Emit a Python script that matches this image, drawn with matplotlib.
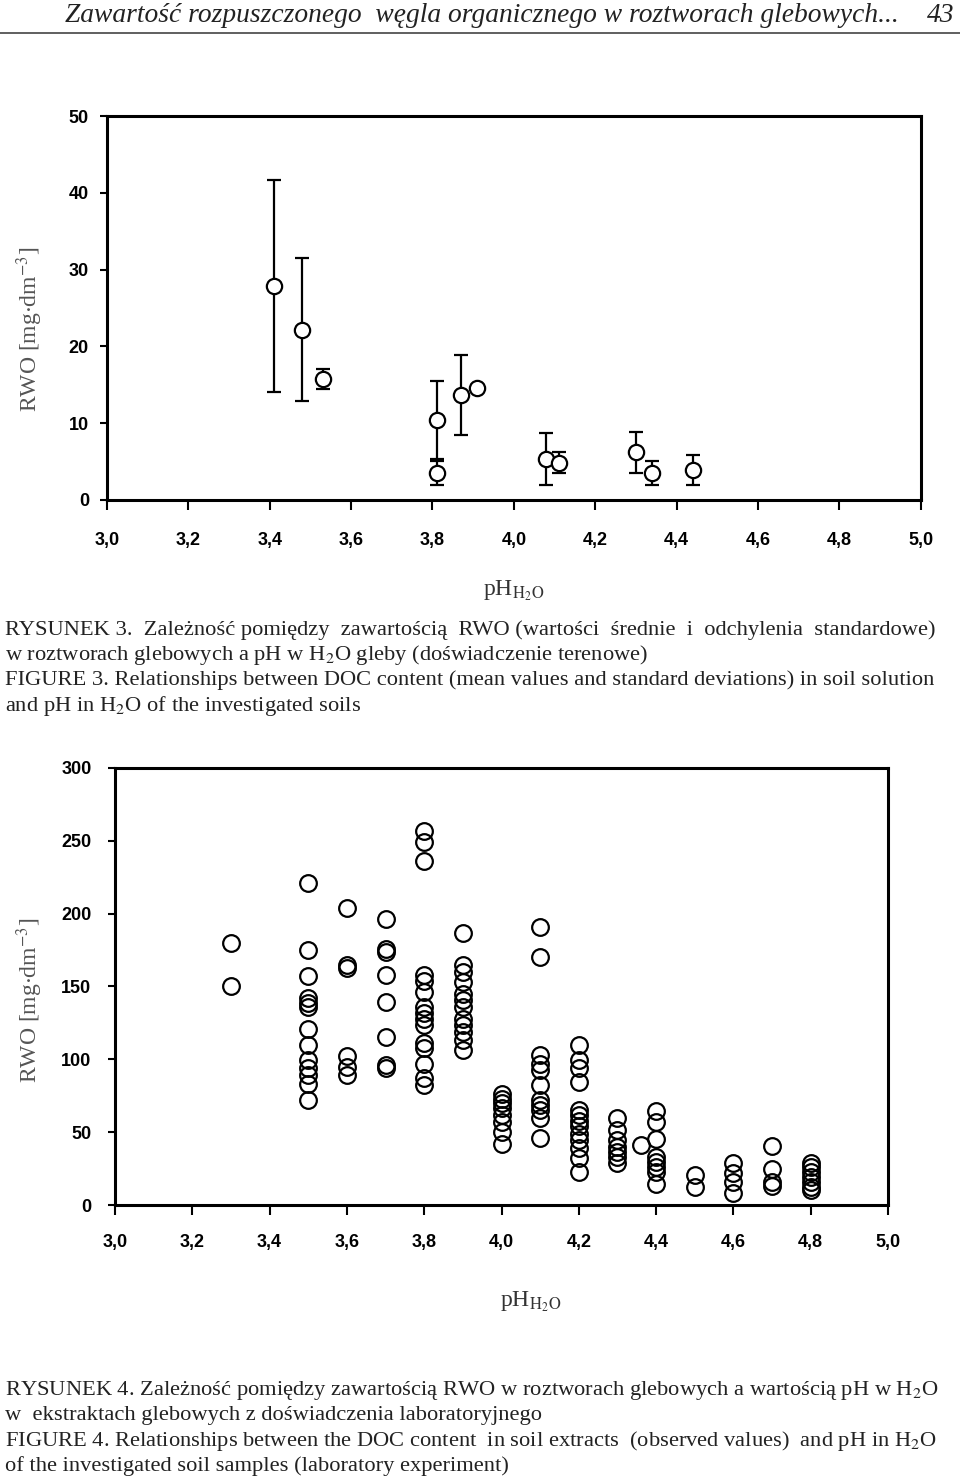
import matplotlib
matplotlib.use("Agg")
import matplotlib.pyplot as plt
import numpy as np

plt.rcParams['mathtext.fontset'] = 'stix'
plt.rcParams['font.family'] = ['Liberation Sans Narrow', 'Liberation Sans', 'DejaVu Sans']

# Figure 3 - field experiment, means and standard deviations
ph_field = [3.41, 3.48, 3.53, 3.81, 3.81, 3.87, 3.91, 4.08, 4.11, 4.30, 4.34, 4.44]
rwo_mean = [27.9, 22.2, 15.8, 10.4, 3.5, 13.7, 14.6, 5.3, 4.85, 6.2, 3.5, 3.9]
rwo_sd = [13.8, 9.3, 1.3, 5.1, 1.6, 5.2, 0.4, 3.4, 1.4, 2.65, 1.6, 2.0]

# Figure 4 - laboratory experiment, observed values per pH group
lab_points = {
    3.30: [180, 150],
    3.50: [221, 175, 157, 142, 139, 136, 121, 110, 99.5, 94, 89, 83, 72],
    3.60: [204, 165, 163, 102, 95, 89],
    3.70: [196, 176, 174, 158, 139.5, 115.5, 96, 94],
    3.80: [257, 249, 236, 158, 154, 146, 136, 131.5, 128, 123.5, 111, 107.5, 97, 87, 82.5],
    3.90: [186.5, 165, 160, 153, 145, 141, 136, 128, 123.5, 119, 113, 106.5],
    4.00: [76.5, 73, 70, 66.5, 62, 57, 50, 42],
    4.10: [191, 170.5, 103, 97, 92.5, 82.5, 72, 68.5, 65, 59.5, 46],
    4.20: [110, 99.5, 94, 84.5, 65, 62, 58, 54, 49, 44.5, 39, 32, 23],
    4.30: [59.5, 51.5, 44.5, 40, 36.5, 33, 28.5],
    4.36: [41.5],
    4.40: [64.5, 57, 45, 33, 29.5, 26, 23, 14.5],
    4.50: [20.5, 12.5],
    4.60: [28.5, 22, 16, 8],
    4.70: [40.5, 25, 16, 13],
    4.80: [28.5, 26, 23, 19.5, 16, 12.5, 10.5],
}

x_ticks = [3.0, 3.2, 3.4, 3.6, 3.8, 4.0, 4.2, 4.4, 4.6, 4.8, 5.0]
x_labels = [f"{v:.1f}".replace('.', ',') for v in x_ticks]
y_ticks_top = [0, 10, 20, 30, 40, 50]
y_ticks_bot = [0, 50, 100, 150, 200, 250, 300]

header = "Zawartość rozpuszczonego  węgla organicznego w roztworach glebowych..."
cap3 = ["RYSUNEK 3.  Zależność pomiędzy  zawartością  RWO (wartości  średnie  i  odchylenia  standardowe)",
        r"w roztworach glebowych a pH w H$_2$O gleby (doświadczenie terenowe)",
        "FIGURE 3. Relationships between DOC content (mean values and standard deviations) in soil solution",
        r"and pH in H$_2$O of the investigated soils"]
cap4 = [r"RYSUNEK 4. Zależność pomiędzy zawartością RWO w roztworach glebowych a wartością pH w H$_2$O",
        "w  ekstraktach glebowych z doświadczenia laboratoryjnego",
        r"FIGURE 4. Relationships between the DOC content  in soil extracts  (observed values)  and pH in H$_2$O",
        "of the investigated soil samples (laboratory experiment)"]

serif = ['Liberation Serif', 'DejaVu Serif']
ylab = r"RWO [mg$\cdot$dm$^{-3}$]"
xlab = r"pH$_{\mathrm{H_2O}}$"

fig = plt.figure(figsize=(9.6, 14.84), dpi=100)


def style_axes(ax, yticks):
    for s in ax.spines.values():
        s.set_linewidth(2.2)
    ax.set_xlim(3.0, 5.0)
    ax.set_xticks(x_ticks)
    ax.set_xticklabels(x_labels)
    ax.set_yticks(yticks)
    ax.set_ylim(yticks[0], yticks[-1])
    ax.tick_params(axis='x', direction='out', length=7, width=1.5, pad=16, labelsize=13)
    ax.tick_params(axis='y', direction='out', length=5, width=1.5, pad=8, labelsize=13)
    for lab in ax.get_xticklabels() + ax.get_yticklabels():
        lab.set_fontweight('bold')


# top chart
ax1 = fig.add_axes([0.1115, 0.6631, 0.8475, 0.2587])
ax1.errorbar(ph_field, rwo_mean, yerr=rwo_sd, fmt='o', mfc='white', mec='black',
             ms=11, mew=1.6, ecolor='black', elinewidth=1.6, capsize=5, capthick=1.8)
style_axes(ax1, y_ticks_top)
fig.text(0.031, 0.778, ylab, rotation=90, ha='center', va='center',
         family=serif, fontsize=17, color='#555555')
fig.text(0.535, 0.602, xlab, ha='center', va='center', family=serif, fontsize=17, color='#333333')

# bottom chart
ax2 = fig.add_axes([0.1198, 0.188, 0.8052, 0.2945])
for ph, vals in lab_points.items():
    ax2.plot([ph] * len(vals), vals, 'o', mfc='none', mec='black', ms=12, mew=1.6, ls='none')
style_axes(ax2, y_ticks_bot)
ax2.tick_params(axis='x', pad=14)
ax2.tick_params(axis='y', pad=12)
fig.text(0.031, 0.326, ylab, rotation=90, ha='center', va='center',
         family=serif, fontsize=17, color='#555555')
fig.text(0.553, 0.123, xlab, ha='center', va='center', family=serif, fontsize=17, color='#333333')

# header
fig.text(0.068, 0.9895, header, ha='left', va='center', family=serif, style='italic',
         fontsize=19.8, color='#222222')
fig.text(0.994, 0.9895, "43", ha='right', va='center', family=serif, style='italic',
         fontsize=19.8, color='#222222')
fig.add_artist(plt.Line2D([0.0, 1.0], [0.9780, 0.9780], color='#444444', lw=1.2))

# captions
for i, line in enumerate(cap3):
    fig.text(0.005, 1 - (630 + 25.3 * i) / 1484, line, ha='left', va='center',
             family=serif, fontsize=16.2, color='#222222')
for i, line in enumerate(cap4):
    fig.text(0.005, 1 - (1390 + 25.3 * i) / 1484, line, ha='left', va='center',
             family=serif, fontsize=16.2, color='#222222')

fig.savefig("out.png", dpi=100)
